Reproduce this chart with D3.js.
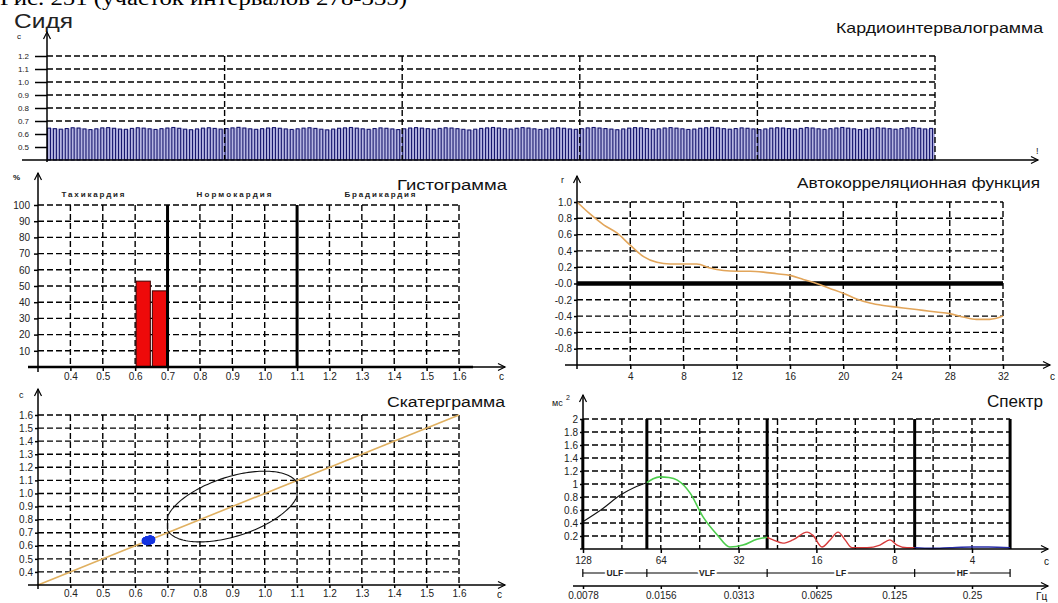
<!DOCTYPE html>
<html>
<head>
<meta charset="utf-8">
<script src="https://cdn.jsdelivr.net/npm/d3@7"></script>
<style>
body{margin:0;background:#fff;}
svg{display:block;}
</style>
</head>
<body>
<svg id="svg"></svg>
<script>
// ---- data ----
const rrValues = [
  0.645,0.641,0.637,0.642,0.648,0.646,0.639,0.634,0.640,0.647,
  0.649,0.644,0.638,0.636,0.643,0.648,0.645,0.640,0.635,0.641,
  0.646,0.650,0.644,0.637,0.633,0.639,0.645,0.648,0.643,0.638,
  0.642,0.647,0.651,0.646,0.640,0.636,0.641,0.646,0.649,0.644,
  0.639,0.635,0.640,0.645,0.648,0.643,0.637,0.632,0.638,0.644,
  0.647,0.650,0.645,0.640,0.636,0.642,0.647,0.644,0.639,0.634,
  0.640,0.646,0.649,0.645,0.641,0.637,0.643,0.648,0.646,0.641,
  0.636,0.631,0.637,0.643,0.647,0.650,0.646,0.641,0.638,0.644,
  0.649,0.646,0.640,0.635,0.639,0.645,0.648,0.644,0.639,0.636,
  0.641,0.647,0.650,0.646,0.642,0.638,0.633,0.639,0.645,0.649,
  0.647,0.642,0.637,0.640,0.646,0.649,0.645,0.640,0.635,0.638,
  0.644,0.648,0.651,0.647,0.641,0.637,0.642,0.647,0.644,0.639,
  0.634,0.639,0.645,0.648,0.646,0.642,0.638,0.643,0.649,0.646,
  0.640,0.636,0.641,0.646,0.650,0.645,0.640,0.634,0.638,0.644,
  0.648,0.645,0.641,0.637,0.642,0.647,0.649,0.644,0.639,0.643
];
const rrTicks = [0.5,0.6,0.7,0.8,0.9,1.0,1.1,1.2];
const rrGridIdx = [30,60,90,120,150];

const histBinStart = [0.60, 0.65];
const histPercent = [53, 47];
const histBinWidth = 0.05;
const histZones = ['Тахикардия','Нормокардия','Брадикардия'];
const histBounds = [0.7, 1.1];
const pctTicks = [10,20,30,40,50,60,70,80,90,100];
const secTicks = [0.4,0.5,0.6,0.7,0.8,0.9,1.0,1.1,1.2,1.3,1.4,1.5,1.6];

const acfLag = [0,1,2,3,4,5,6,7,8,9,10,11,12,13,14,15,16,17,18,19,20,21,22,23,24,25,26,27,28,29,30,31,32];
const acfValues = [1.0,0.85,0.72,0.62,0.47,0.33,0.26,0.24,0.24,0.24,0.19,0.16,0.15,0.15,0.14,0.12,0.10,0.05,0.0,
  -0.06,-0.12,-0.19,-0.24,-0.27,-0.29,-0.31,-0.33,-0.35,-0.37,-0.41,-0.44,-0.44,-0.40];
const acfXTicks = [4,8,12,16,20,24,28,32];
const acfYTicks = [1.0,0.8,0.6,0.4,0.2,0.0,-0.2,-0.4,-0.6,-0.8];

const scatterTicks = [0.4,0.5,0.6,0.7,0.8,0.9,1.0,1.1,1.2,1.3,1.4,1.5,1.6];
// ellipse: centre, x half-width, and the y terms (tilt / own half-height), clipped to x range
const ellipseCenter = [0.9, 0.9];
const ellipseRx = 0.205, ellipseTilt = 0.132, ellipseRy = 0.236;
const ellipseClip = [0.7, 1.1];

const bandNames = ['ULF','VLF','LF','HF'];
const bandBounds = [0.0078, 0.0138, 0.0403, 0.150, 0.351];
const ulfCurve = [[0.0078,0.42],[0.0093,0.62],[0.0109,0.83],[0.0124,0.95],[0.0138,1.02]];
const vlfCurve = [[0.0138,1.02],[0.0146,1.08],[0.0155,1.11],[0.0168,1.10],[0.0181,1.06],[0.0203,0.86],[0.0228,0.49],
  [0.0258,0.22],[0.0289,0.03],[0.0325,0.06],[0.0368,0.15],[0.0403,0.18]];
const lfCurve = [[0.0403,0.18],[0.0425,0.14],[0.0464,0.09],[0.0507,0.14],[0.0575,0.26],[0.0606,0.21],[0.0657,0.03],
  [0.0706,0.14],[0.0758,0.26],[0.0807,0.14],[0.0859,0.02],[0.0981,0.02],[0.1101,0.06],[0.1204,0.14],[0.1282,0.06],
  [0.1401,0.02],[0.150,0.02]];
const hfCurve = [[0.150,0.02],[0.175,0.01],[0.205,0.02],[0.25,0.03],[0.29,0.03],[0.351,0.02]];
const periodTicks = [128,64,32,16,8,4];
const freqLabels = ['0.0078','0.0156','0.0313','0.0625','0.125','0.25'];
const powerTicks = [0.2,0.4,0.6,0.8,1,1.2,1.4,1.6,1.8,2];

// ---- drawing ----
const WIDTH = 1058, HEIGHT = 603;
const FONT = '"Liberation Sans", Arial, sans-serif';
const DASH = '6,3';
const svg = d3.select('#svg').attr('width', WIDTH).attr('height', HEIGHT)
  .style('font-family', FONT);

function seg(g, x1, y1, x2, y2, w, dash){
  const l = g.append('line').attr('x1',x1).attr('y1',y1).attr('x2',x2).attr('y2',y2)
    .attr('stroke','#000').attr('stroke-width',w);
  if(dash) l.attr('stroke-dasharray',dash);
  return l;
}
function hGrid(g, x1, x2, y, vals){
  g.append('g').selectAll('line').data(vals).join('line')
    .attr('x1',x1).attr('x2',x2).attr('y1',d=>y(d)).attr('y2',d=>y(d))
    .attr('stroke','#000').attr('stroke-width',1.4).attr('stroke-dasharray',DASH);
}
function vGrid(g, x, vals, y1, y2){
  g.append('g').selectAll('line').data(vals).join('line')
    .attr('x1',d=>x(d)).attr('x2',d=>x(d)).attr('y1',y1).attr('y2',y2)
    .attr('stroke','#000').attr('stroke-width',1.4).attr('stroke-dasharray',DASH);
}
function arrowUp(g, x, yBot, yTop){
  seg(g, x, yBot, x, yTop, 1.5);
  g.append('path').attr('d',`M${x-3.5},${yTop+7}L${x},${yTop}L${x+3.5},${yTop+7}`)
    .attr('fill','none').attr('stroke','#000').attr('stroke-width',1.2);
}
function arrowRight(g, xL, xR, y){
  seg(g, xL, y, xR, y, 1.5);
  g.append('path').attr('d',`M${xR-7},${y-3.5}L${xR},${y}L${xR-7},${y+3.5}`)
    .attr('fill','none').attr('stroke','#000').attr('stroke-width',1.2);
}
function styleAxis(a, fs){
  a.attr('font-family', FONT).attr('font-size', fs);
  a.select('.domain').remove();
  a.selectAll('.tick line').attr('stroke','#000').attr('stroke-width',1.5);
  a.selectAll('.tick text').attr('fill','#222');
}
function label(g, x, y, txt, fs, opts = {}){
  const t = g.append('text').attr('x',x).attr('y',y).text(txt)
    .attr('font-size',fs).attr('fill', opts.fill || '#111')
    .attr('text-anchor', opts.anchor || 'start');
  if(opts.len) t.attr('textLength',opts.len).attr('lengthAdjust', opts.adjust || 'spacing');
  if(opts.weight) t.attr('font-weight',opts.weight);
  if(opts.family) t.attr('font-family',opts.family);
  return t;
}
const fmt1 = d => d.toFixed(1);

// caption cut by the top edge, and the posture label
label(svg, 0, 5, 'Рис. 251 (участок интервалов 278-335)', 20, {family:'"Liberation Serif", "Times New Roman", serif', len:407, adjust:'spacingAndGlyphs', fill:'#000'});
label(svg, 14, 28, 'Сидя', 20, {len:59, adjust:'spacingAndGlyphs', fill:'#222'});

// ---------- Кардиоинтервалограмма ----------
{
  const g = svg.append('g');
  const x = d3.scaleLinear().domain([0, rrValues.length]).range([47, 935]);
  const y = d3.scaleLinear().domain([0.4, 1.2]).range([160, 56]);
  const step = x(1) - x(0);
  hGrid(g, 47, 935, y, rrTicks.filter(d => d > 0.65));
  g.append('g').selectAll('rect').data(rrValues).join('rect')
    .attr('x',(d,i)=>x(i)).attr('width',step).attr('y',d=>y(d)).attr('height',d=>y(0.4)-y(d))
    .attr('fill','#b6b6e2');
  g.append('g').selectAll('rect').data(rrValues).join('rect')
    .attr('x',(d,i)=>x(i)+0.5).attr('width',step/2).attr('y',d=>y(d)).attr('height',d=>y(0.4)-y(d))
    .attr('fill','none').attr('stroke','#16166e').attr('stroke-width',1.1);
  vGrid(g, x, rrGridIdx, 56, 160);
  const ax = g.append('g').attr('transform','translate(47,0)')
    .call(d3.axisLeft(y).tickValues(rrTicks).tickSize(12).tickPadding(6).tickFormat(fmt1));
  styleAxis(ax, 8);
  arrowUp(g, 47, 162, 32);
  arrowRight(g, 22, 1038, 160);
  label(g, 17, 39, 'c', 8);
  label(g, 1036, 154, '!', 9);
  label(g, 1043, 33, 'Кардиоинтервалограмма', 15, {anchor:'end', len:207, adjust:'spacingAndGlyphs'});
}

// ---------- Гистограмма ----------
{
  const g = svg.append('g');
  const x = d3.scaleLinear().domain([0.3, 1.6]).range([38, 459]);
  const y = d3.scaleLinear().domain([0, 100]).range([367, 205]);
  hGrid(g, 38, 459, y, pctTicks);
  vGrid(g, x, secTicks, 205, 367);
  g.append('g').selectAll('rect').data(histBinStart).join('rect')
    .attr('x',d=>x(d)+1).attr('width',d=>x(d+histBinWidth)-x(d)-2)
    .attr('y',(d,i)=>y(histPercent[i])).attr('height',(d,i)=>y(0)-y(histPercent[i]))
    .attr('fill','#ee0a0a').attr('stroke','#3a0000').attr('stroke-width',1);
  histBounds.forEach(b => seg(g, x(b), y(100), x(b), y(0), 3));
  const ay = g.append('g').attr('transform','translate(38,0)')
    .call(d3.axisLeft(y).tickValues(pctTicks).tickSize(4).tickPadding(4));
  styleAxis(ay, 10);
  const ax = g.append('g').attr('transform','translate(0,367)')
    .call(d3.axisBottom(x).tickValues(secTicks).tickSize(4).tickPadding(2).tickFormat(fmt1));
  styleAxis(ax, 10);
  arrowUp(g, 38, 372, 173);
  arrowRight(g, 28, 505, 367);
  seg(g, 28, 367, 473, 367, 2.5);
  label(g, 13, 180, '%', 8, {weight:'bold'});
  label(g, 499, 380, 'c', 10);
  const zoneX = [93, 234, 380], zoneW = [63, 75, 71];
  histZones.forEach((z,i) => label(g, zoneX[i], 197, z, 8, {anchor:'middle', len:zoneW[i], weight:'bold', fill:'#222'}));
  label(g, 507, 190, 'Гистограмма', 15.5, {anchor:'end', len:110, adjust:'spacingAndGlyphs'});
}

// ---------- Автокорреляционная функция ----------
{
  const g = svg.append('g');
  const x = d3.scaleLinear().domain([0, 32]).range([577, 1003]);
  const y = d3.scaleLinear().domain([-1, 1]).range([365, 202]);
  hGrid(g, 577, 1003, y, acfYTicks.filter(d => d !== 0));
  vGrid(g, x, acfXTicks, 202, 365);
  seg(g, 577, y(0), 1003, y(0), 4.5);
  g.append('path').datum(acfLag)
    .attr('d', d3.line().x(d=>x(d)).y((d,i)=>y(acfValues[i])).curve(d3.curveMonotoneX))
    .attr('fill','none').attr('stroke','#e2a55a').attr('stroke-width',1.6);
  const ay = g.append('g').attr('transform','translate(577,0)')
    .call(d3.axisLeft(y).tickValues(acfYTicks).tickSize(3).tickPadding(2)
      .tickFormat(d => d === 0 ? '-0.0' : d.toFixed(1)));
  styleAxis(ay, 10);
  const ax = g.append('g').attr('transform','translate(0,365)')
    .call(d3.axisBottom(x).tickValues(acfXTicks).tickSize(4).tickPadding(4));
  styleAxis(ax, 10);
  arrowUp(g, 577, 369, 176);
  arrowRight(g, 565, 1050, 365);
  label(g, 561, 183, 'r', 9);
  label(g, 1050, 380, 'c', 10);
  label(g, 1040, 188, 'Автокорреляционная функция', 15.5, {anchor:'end', len:243, adjust:'spacingAndGlyphs'});
}

// ---------- Скатерграмма ----------
{
  const g = svg.append('g');
  const x = d3.scaleLinear().domain([0.3, 1.6]).range([38, 459]);
  const y = d3.scaleLinear().domain([0.3, 1.6]).range([585, 415]);
  hGrid(g, 38, 459, y, scatterTicks);
  vGrid(g, x, scatterTicks, 415, 585);
  g.append('path').datum([0.3, 1.6])
    .attr('d', d3.line().x(d=>x(d)).y(d=>y(d)))
    .attr('stroke','#e0b060').attr('stroke-width',1.6);
  const ell = d3.range(0, 361, 2).map(t => {
    const r = t * Math.PI / 180;
    const ex = ellipseCenter[0] + ellipseRx * Math.cos(r);
    const ey = ellipseCenter[1] + ellipseTilt * Math.cos(r) + ellipseRy * Math.sin(r);
    return [Math.max(ellipseClip[0], Math.min(ellipseClip[1], ex)), ey];
  });
  g.append('path').datum(ell)
    .attr('d', d3.line().x(d=>x(d[0])).y(d=>y(d[1])))
    .attr('fill','none').attr('stroke','#111').attr('stroke-width',1.1);
  const pairs = rrValues.slice(1).map((v,i) => [rrValues[i], v]);
  g.append('g').selectAll('circle').data(pairs).join('circle')
    .attr('cx',d=>x(d[0])).attr('cy',d=>y(d[1])).attr('r',3.6).attr('fill','#1433e0');
  const ay = g.append('g').attr('transform','translate(38,0)')
    .call(d3.axisLeft(y).tickValues(scatterTicks).tickSize(3).tickPadding(2).tickFormat(fmt1));
  styleAxis(ay, 10);
  const ax = g.append('g').attr('transform','translate(0,585)')
    .call(d3.axisBottom(x).tickValues(scatterTicks).tickSize(3).tickPadding(2).tickFormat(fmt1));
  styleAxis(ax, 10);
  arrowUp(g, 38, 589, 389);
  arrowRight(g, 28, 505, 585);
  label(g, 19, 398, 'c', 9);
  label(g, 497, 598, 'c', 10);
  label(g, 505, 407, 'Скатерграмма', 15.5, {anchor:'end', len:118, adjust:'spacingAndGlyphs'});
}

// ---------- Спектр ----------
{
  const g = svg.append('g');
  const x = d3.scaleLog().base(2).domain([1/128, 1/4]).range([583, 972]);
  const y = d3.scaleLinear().domain([0, 2]).range([549, 419]);
  const xEnd = x(bandBounds[4]);
  hGrid(g, 583, xEnd, y, powerTicks);
  const halfOct = d3.range(1, 12).map(k => Math.pow(2, k/2) / 128).filter(f => x(f) < xEnd - 3);
  vGrid(g, x, halfOct, 419, 549);
  bandBounds.forEach(b => seg(g, x(b), y(2), x(b), y(0), 3));
  const curve = d3.line().x(d=>x(d[0])).y(d=>y(d[1])).curve(d3.curveMonotoneX);
  [[ulfCurve,'#111',1.1],[vlfCurve,'#4ccd4c',1.6],[lfCurve,'#d63a3a',1.4],[hfCurve,'#2a2fa8',1.6]].forEach(([data,col,w]) => {
    g.append('path').datum(data).attr('d',curve).attr('fill','none').attr('stroke',col).attr('stroke-width',w);
  });
  const ay = g.append('g').attr('transform','translate(583,0)')
    .call(d3.axisLeft(y).tickValues(powerTicks).tickSize(3).tickPadding(2).tickFormat(d3.format('')));
  styleAxis(ay, 10);
  const ax = g.append('g').attr('transform','translate(0,549)')
    .call(d3.axisBottom(x).tickValues(periodTicks.map(p => 1/p)).tickSize(4).tickPadding(4)
      .tickFormat((d,i) => periodTicks[i]));
  styleAxis(ax, 10);
  arrowUp(g, 583, 549, 395);
  arrowRight(g, 580, 1048, 549);
  label(g, 1044, 565, 'c', 10);
  label(g, 552, 406, 'мс', 9);
  label(g, 566, 400, '2', 7);
  // bands row
  seg(g, x(bandBounds[0]), 573, xEnd, 573, 1.2);
  bandBounds.forEach(b => seg(g, x(b), 569, x(b), 577, 1.2));
  bandNames.forEach((n,i) => {
    const xm = (x(bandBounds[i]) + x(bandBounds[i+1])) / 2;
    label(g, xm, 576, n, 8.5, {anchor:'middle', weight:'bold', fill:'#222'})
      .attr('stroke','#fff').attr('stroke-width',4).attr('paint-order','stroke');
  });
  // frequency axis
  arrowRight(g, 573, 1048, 586);
  const af = g.append('g').attr('transform','translate(0,586)')
    .call(d3.axisBottom(x).tickValues(periodTicks.map(p => 1/p)).tickSize(3).tickPadding(3)
      .tickFormat((d,i) => freqLabels[i]));
  styleAxis(af, 10);
  label(g, 1036, 600, 'Гц', 10);
  label(g, 1043, 407, 'Спектр', 16, {anchor:'end', len:56, adjust:'spacingAndGlyphs'});
}
</script>
</body>
</html>
